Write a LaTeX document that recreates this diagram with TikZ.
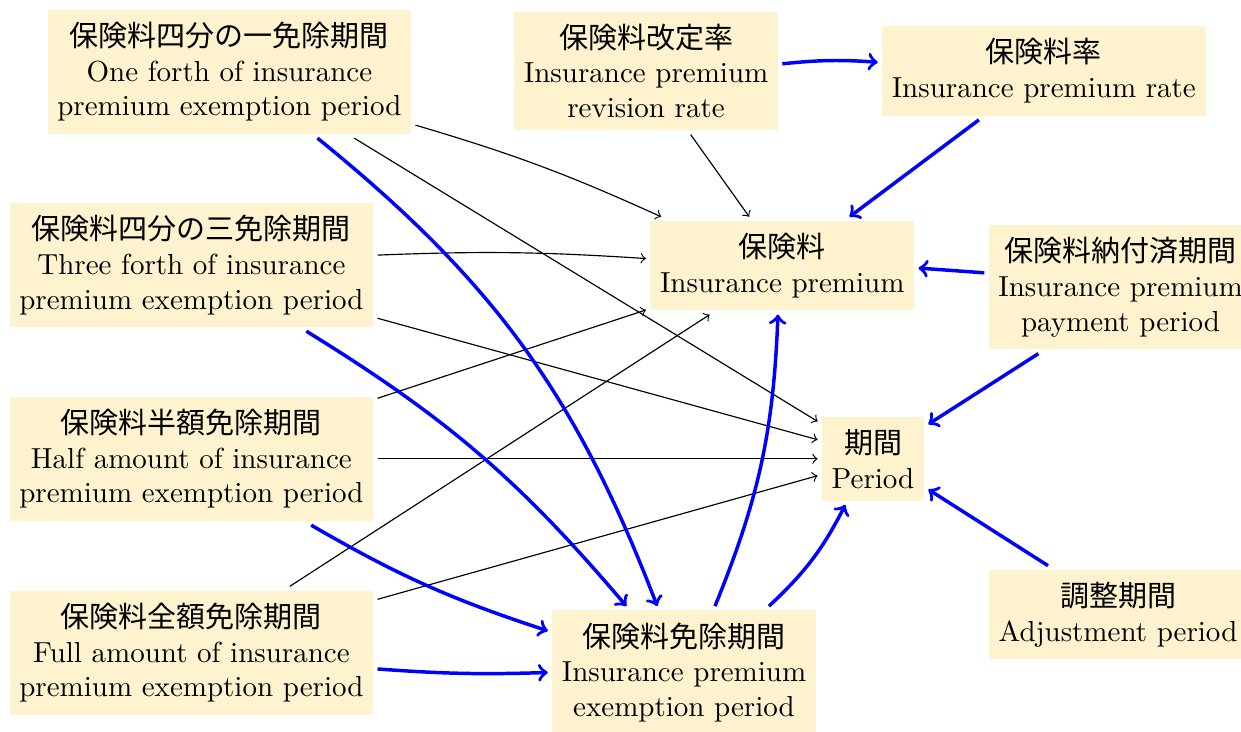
\documentclass[tikz,border=0pt]{standalone}
\usepackage{fontspec}
\newfontfamily\jp{Noto Sans CJK JP}
\usepackage{xcolor}
\definecolor{boxfill}{RGB}{255,242,206}

\begin{document}
\begin{tikzpicture}[
        every node/.style={fill=boxfill, align=center, inner ysep=4.2pt, outer sep=1.5pt},
        node distance=2.35cm,
        weak/.style={->},
        strong/.style={->, very thick, blue}
    ]
        \useasboundingbox (0,0) rectangle (15.04,-8.87);

        % Nodes
        \node (quarter) at (2.78,-0.87) {{\jp 保険料四分の一免除期間}\\One forth of insurance\\premium exemption period};
        \node (revision) at (7.83,-0.86) {{\jp 保険料改定率}\\Insurance premium\\revision rate};
        \node (rate) at (12.65,-0.86) {{\jp 保険料率}\\Insurance premium rate};
        \node (threequarter) at (2.32,-3.21) {{\jp 保険料四分の三免除期間}\\Three forth of insurance\\premium exemption period};
        \node (half) [below of=threequarter] {{\jp 保険料半額免除期間}\\Half amount of insurance\\premium exemption period};
        \node (full) [below of=half] {{\jp 保険料全額免除期間}\\Full amount of insurance\\premium exemption period};
        \node (premium) at (9.48,-3.22) {{\jp 保険料}\\Insurance premium};
        \node (period) [right of=half, xshift=5.91cm] {{\jp 期間}\\Period};
        \node (exempt) at (8.29,-8.15) {{\jp 保険料免除期間}\\Insurance premium\\exemption period};
        \node (paid) at (13.58,-3.48) {{\jp 保険料納付済期間}\\Insurance premium\\payment period};
        \node (adjust) [below of=paid, xshift=-0.03cm, yshift=-1.62cm] {{\jp 調整期間}\\Adjustment period};

        % Edges (thin)
        \draw[weak] (quarter.-16) to[bend left=4] (premium.158);
        \draw[weak] (quarter.-28) -- (period.146);
        \draw[weak] (revision.-55) -- (premium.124);
        \draw[weak] (threequarter.3) to[bend left=3] (premium.177);
        \draw[weak] (threequarter.-16) -- (period.161);
        \draw[weak] (half.18) -- (premium.198);
        \draw[weak] (half.0) -- (period.180);
        \draw[weak] (full.34) -- (premium.214);
        \draw[weak] (full.16) -- (period.197);

        % Edges (blue)
        \draw[strong] (revision.3) to[bend left=5] (rate.177);
        \draw[strong] (rate.-143) -- (premium.36);
        \draw[strong] (paid.174) -- (premium.-1);
        \draw[strong] (paid.-141) -- (period.32);
        \draw[strong] (adjust.145) -- (period.-29);
        \draw[strong] (quarter.-37) to[bend left=15] (exempt.112);
        \draw[strong] (threequarter.-30) to[bend left=9] (exempt.131);
        \draw[strong] (half.-29) to[bend right=6] (exempt.163);
        \draw[strong] (full.-5) to[bend right=3] (exempt.180);
        \draw[strong] (exempt.65) to[bend right=10] (premium.-95);
        \draw[strong] (exempt.38) to[bend right=10] (period.-121);
    \end{tikzpicture}
\end{document}
